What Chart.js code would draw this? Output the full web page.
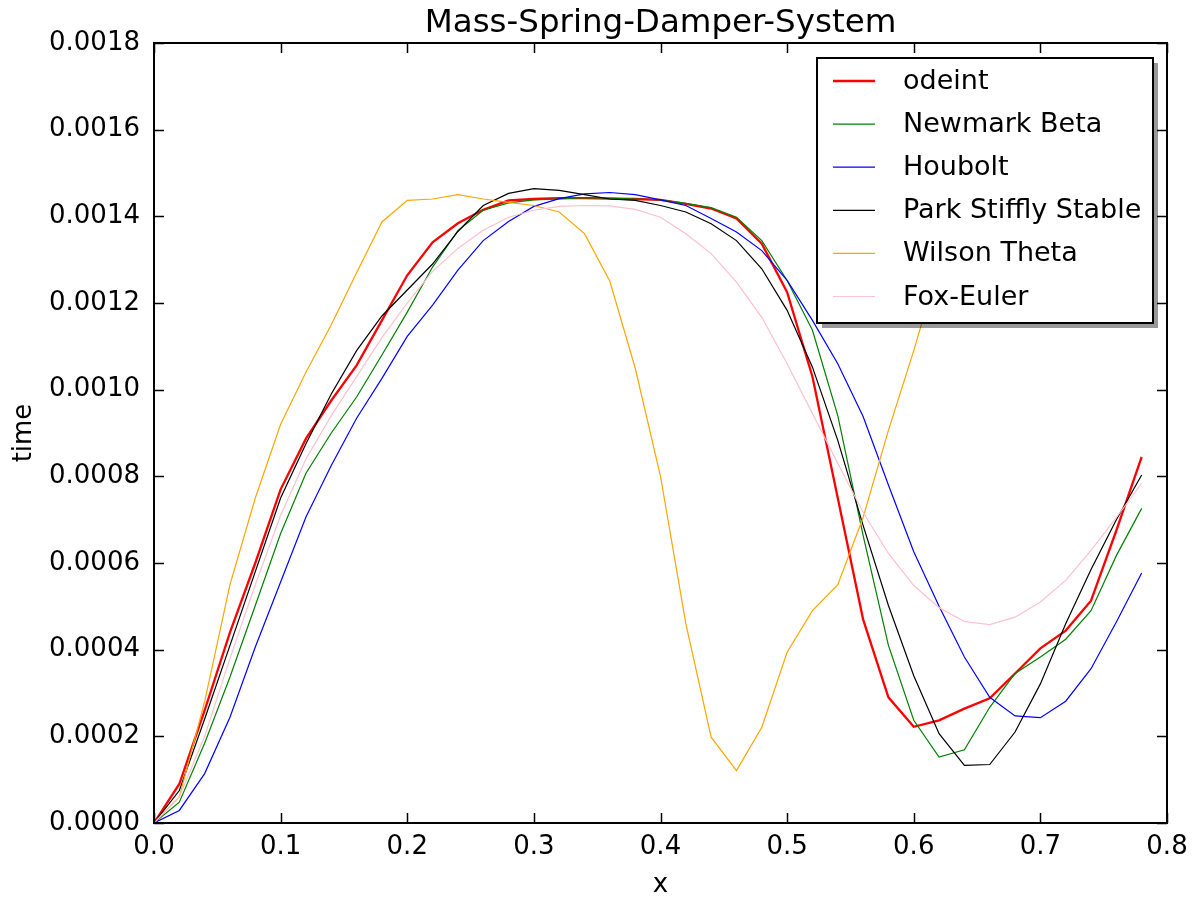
<!DOCTYPE html>
<html>
<head>
<meta charset="utf-8">
<title>Mass-Spring-Damper-System</title>
<script src="https://cdn.jsdelivr.net/npm/chart.js@4"></script>
<style>
  html, body { margin: 0; padding: 0; background: #fff; }
  #wrap { width: 1199px; height: 901px; }
</style>
</head>
<body>
<div id="wrap"><canvas id="msd" width="1199" height="901"></canvas></div>
<script>
// x positions of the solver samples
const xs = [0.00, 0.02, 0.04, 0.06, 0.08, 0.10, 0.12, 0.14, 0.16, 0.18,
            0.20, 0.22, 0.24, 0.26, 0.28, 0.30, 0.32, 0.34, 0.36, 0.38,
            0.40, 0.42, 0.44, 0.46, 0.48, 0.50, 0.52, 0.54, 0.56, 0.58,
            0.60, 0.62, 0.64, 0.66, 0.68, 0.70, 0.72, 0.74, 0.76, 0.78];

// solver results
const odeint = [0, 0.00009, 0.00026, 0.00044, 0.0006, 0.00077, 0.000887, 0.000975, 0.001056, 0.00116,
                0.001264, 0.00134, 0.001384, 0.001415, 0.001437, 0.00144, 0.001442, 0.001442, 0.001441, 0.00144,
                0.001438, 0.001429, 0.001418, 0.001395, 0.001337, 0.001225, 0.00103, 0.00075, 0.00047, 0.00029,
                0.000222, 0.000237, 0.000264, 0.000288, 0.000345, 0.000403, 0.000444, 0.000513, 0.000675, 0.000845];

const newmarkBeta = [0, 0.000048, 0.000184, 0.000337, 0.000502, 0.000668, 0.000807, 0.0009, 0.000983, 0.00108,
                     0.001179, 0.001283, 0.001367, 0.001414, 0.001431, 0.001438, 0.00144, 0.001443, 0.001442, 0.00144,
                     0.001438, 0.00143, 0.00142, 0.001398, 0.001344, 0.001252, 0.001137, 0.00094, 0.000664, 0.00041,
                     0.000237, 0.000152, 0.000169, 0.000267, 0.000345, 0.000383, 0.000424, 0.00049, 0.000617, 0.000726];

const houbolt = [0, 0.000029, 0.000114, 0.000244, 0.000406, 0.000556, 0.000706, 0.000825, 0.000934, 0.001026,
                 0.001123, 0.001195, 0.001276, 0.001344, 0.001388, 0.001423, 0.001441, 0.001452, 0.001455, 0.00145,
                 0.001438, 0.001425, 0.001395, 0.001364, 0.001321, 0.001252, 0.00116, 0.00106, 0.000938, 0.00078,
                 0.000626, 0.0005, 0.000383, 0.00029, 0.000247, 0.000243, 0.000281, 0.000356, 0.000464, 0.000577];

const parkStifflyStable = [0, 0.000075, 0.00024, 0.00041, 0.00058, 0.00075, 0.000875, 0.00099, 0.00109, 0.00117,
                           0.00123, 0.00129, 0.001365, 0.001425, 0.001453, 0.001464, 0.00146, 0.00145, 0.00144, 0.001437,
                           0.001425, 0.00141, 0.001383, 0.001344, 0.001279, 0.001183, 0.001052, 0.000883, 0.000687, 0.000502,
                           0.00034, 0.000206, 0.000133, 0.000135, 0.00021, 0.000321, 0.00046, 0.000585, 0.0007, 0.000803];

const wilsonTheta = [0, 0.00006, 0.00028, 0.00055, 0.00075, 0.00092, 0.00104, 0.00115, 0.00127, 0.001387,
                     0.001437, 0.00144, 0.00145, 0.00144, 0.001432, 0.001425, 0.00141, 0.00136, 0.00125, 0.00105,
                     0.0008, 0.00046, 0.000198, 0.000121, 0.000221, 0.000394, 0.00049, 0.00055, 0.000705, 0.000906,
                     0.00109, 0.00129, 0.00146, 0.0016, 0.0017, 0.00174, 0.00173, 0.00168, 0.0016, 0.0015];

const foxEuler = [0, 0.00006, 0.0002, 0.00038, 0.00055, 0.00071, 0.00084, 0.00094, 0.00103, 0.00112,
                  0.0012, 0.001273, 0.001326, 0.001368, 0.001398, 0.001414, 0.001423, 0.001425, 0.001424, 0.001416,
                  0.001398, 0.00136, 0.001314, 0.001248, 0.001167, 0.00106, 0.000945, 0.00083, 0.000717, 0.000622,
                  0.000548, 0.000497, 0.000465, 0.000458, 0.000475, 0.00051, 0.00056, 0.000629, 0.000705, 0.000784];

const seriesNames = ['odeint', 'Newmark Beta', 'Houbolt', 'Park Stiffly Stable', 'Wilson Theta', 'Fox-Euler'];
const seriesValues = [odeint, newmarkBeta, houbolt, parkStifflyStable, wilsonTheta, foxEuler];
const seriesColors = ['#ff0000', '#008000', '#0000ff', '#000000', '#ffa500', '#ffc0cb'];
const seriesWidths = [2.3, 1.2, 1.2, 1.2, 1.2, 1.2];

const xTicks = [0, 0.1, 0.2, 0.3, 0.4, 0.5, 0.6, 0.7, 0.8];
const yTicks = [0, 0.0002, 0.0004, 0.0006, 0.0008, 0.001, 0.0012, 0.0014, 0.0016, 0.0018];

Chart.defaults.font.family = 'DejaVu Sans';
Chart.defaults.color = '#000';

// frame, inward ticks on every side, and a boxed legend with a drop shadow
const axesDecor = {
    id: 'axesDecor',
    afterDatasetsDraw(chart) {
        const { ctx, chartArea: a, scales } = chart;
        const tickLen = 10;
        ctx.save();
        ctx.strokeStyle = '#000';
        ctx.lineWidth = 1.5;
        ctx.beginPath();
        xTicks.forEach(v => {
            const px = Math.round(scales.x.getPixelForValue(v)) + 0.5;
            ctx.moveTo(px, a.bottom); ctx.lineTo(px, a.bottom - tickLen);
            ctx.moveTo(px, a.top); ctx.lineTo(px, a.top + tickLen);
        });
        yTicks.forEach(v => {
            const py = Math.round(scales.y.getPixelForValue(v)) + 0.5;
            ctx.moveTo(a.left, py); ctx.lineTo(a.left + tickLen, py);
            ctx.moveTo(a.right, py); ctx.lineTo(a.right - tickLen, py);
        });
        ctx.stroke();

        ctx.lineWidth = 2;
        ctx.strokeRect(a.left, a.top, a.right - a.left, a.bottom - a.top);

        // legend box
        const bx = a.right - 350, by = a.top + 15, bw = 336, bh = 265;
        ctx.fillStyle = 'rgba(0,0,0,0.4)';
        ctx.fillRect(bx + 5, by + 5, bw, bh);
        ctx.fillStyle = '#fff';
        ctx.fillRect(bx, by, bw, bh);
        ctx.lineWidth = 2;
        ctx.strokeStyle = '#000';
        ctx.strokeRect(bx, by, bw, bh);

        ctx.font = '27px "DejaVu Sans"';
        ctx.textBaseline = 'middle';
        ctx.textAlign = 'left';
        chart.data.datasets.forEach((ds, i) => {
            const ry = by + 23 + i * 43.1;
            ctx.beginPath();
            ctx.strokeStyle = ds.borderColor;
            ctx.lineWidth = ds.borderWidth;
            ctx.moveTo(bx + 16, ry);
            ctx.lineTo(bx + 58, ry);
            ctx.stroke();
            ctx.fillStyle = '#000';
            ctx.fillText(ds.label, bx + 86, ry + 1);
        });
        ctx.restore();
    }
};

const datasets = seriesNames.map((name, i) => ({
    label: name,
    data: xs.map((x, j) => ({ x: x, y: seriesValues[i][j] })),
    borderColor: seriesColors[i],
    backgroundColor: seriesColors[i],
    borderWidth: seriesWidths[i],
    pointRadius: 0,
    tension: 0,
    fill: false,
    order: seriesNames.length - i
}));

new Chart(document.getElementById('msd').getContext('2d'), {
    type: 'line',
    data: { datasets: datasets },
    options: {
        responsive: false,
        animation: false,
        events: [],
        layout: { padding: { left: 0, right: 32, top: 0, bottom: 0 } },
        plugins: {
            legend: { display: false },
            tooltip: { enabled: false },
            title: {
                display: true,
                text: 'Mass-Spring-Damper-System',
                fullSize: false,
                font: { size: 32.5, weight: 'normal' },
                color: '#000',
                padding: { top: 3.6, bottom: 0.4 }
            }
        },
        scales: {
            x: {
                type: 'linear',
                min: 0,
                max: 0.8,
                afterFit: s => { s.height = 78; },
                afterBuildTicks: s => { s.ticks = xTicks.map(v => ({ value: v })); },
                ticks: {
                    callback: v => v.toFixed(1),
                    font: { size: 26 },
                    padding: 9,
                    maxRotation: 0,
                    autoSkip: false
                },
                grid: { display: false, drawTicks: false },
                border: { display: false },
                title: { display: true, text: 'x', font: { size: 26 }, padding: { top: 0, bottom: 0 } }
            },
            y: {
                type: 'linear',
                min: 0,
                max: 0.0018,
                afterFit: s => { s.width = 154; },
                afterBuildTicks: s => { s.ticks = yTicks.map(v => ({ value: v })); },
                ticks: {
                    callback: v => v.toFixed(4),
                    font: { size: 26 },
                    padding: 14,
                    autoSkip: false
                },
                grid: { display: false, drawTicks: false },
                border: { display: false },
                title: { display: true, text: 'time', font: { size: 26 }, padding: { top: 8.4, bottom: 0 } }
            }
        }
    },
    plugins: [axesDecor]
});
</script>
</body>
</html>
